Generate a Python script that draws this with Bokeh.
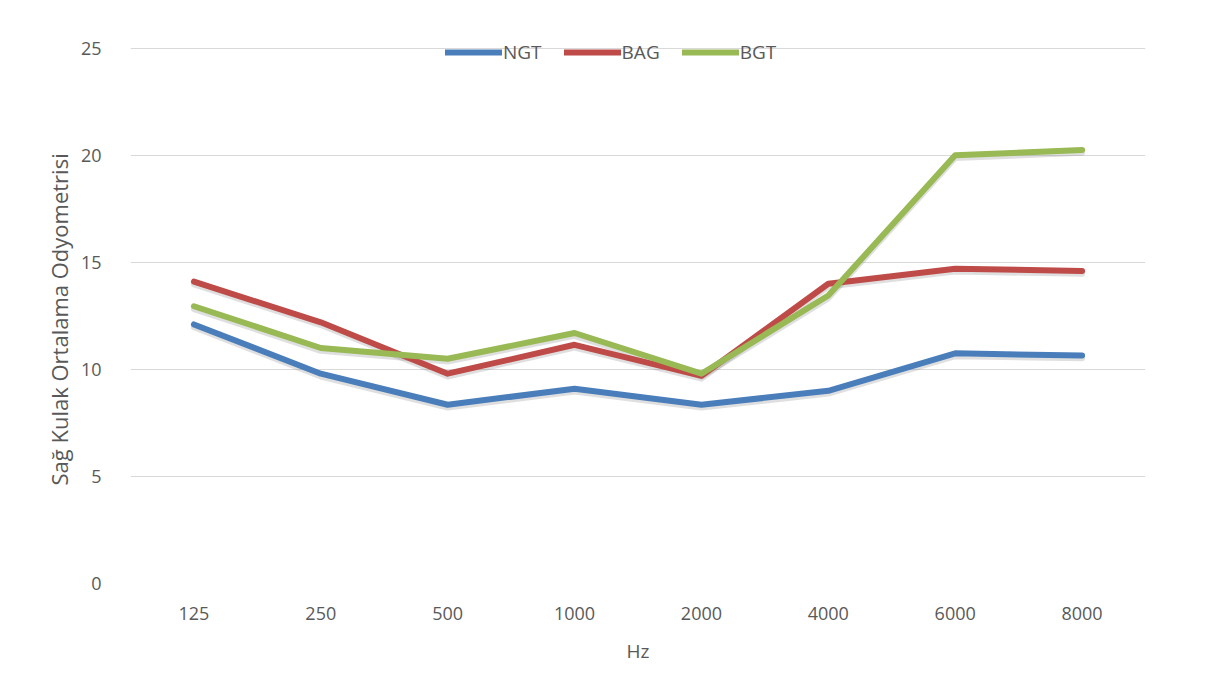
from bokeh.plotting import figure
from bokeh.models import Range1d, Legend, LegendItem, Title
from bokeh.embed import file_html
from bokeh.resources import INLINE

hz = ["125", "250", "500", "1000", "2000", "4000", "6000", "8000"]
ngt = [12.1, 9.8, 8.35, 9.1, 8.35, 9.0, 10.75, 10.65]
bag = [14.1, 12.2, 9.8, 11.15, 9.7, 14.0, 14.7, 14.6]
bgt = [12.95, 11.0, 10.5, 11.7, 9.8, 13.45, 20.0, 20.25]

series = [("NGT", ngt, "#4A7EBB"), ("BAG", bag, "#BE4B48"), ("BGT", bgt, "#98B954")]

FONT = "Open Sans"
TXT = "#595959"

# frame spans y=16..587 px; 25 sits at y=48 (21.56 px per unit)
y_top = 25 + 32 / (539 / 25)

p = figure(width=1203, height=666, x_range=hz, y_range=Range1d(0, y_top),
           output_backend="svg", toolbar_location=None,
           min_border_left=130, min_border_right=58, min_border_top=16, min_border_bottom=79)
p.outline_line_color = None
p.background_fill_color = "white"
p.border_fill_color = "white"

p.xgrid.grid_line_color = None
p.ygrid.grid_line_color = "#D9D9D9"
p.ygrid.grid_line_width = 1
p.yaxis.ticker = [0, 5, 10, 15, 20, 25]

for ax in (p.xaxis[0], p.yaxis[0]):
    ax.axis_line_color = None
    ax.major_tick_line_color = None
    ax.minor_tick_line_color = None
    ax.major_label_text_font = FONT
    ax.major_label_text_font_size = "18px"
    ax.major_label_text_color = TXT
    ax.axis_label_text_font = FONT
    ax.axis_label_text_font_style = "normal"
    ax.axis_label_text_color = TXT

p.xaxis.axis_label = "Hz"
p.xaxis.axis_label_text_font_size = "19px"
p.xaxis.major_label_standoff = 17
p.xaxis.axis_label_standoff = 15
p.yaxis.major_label_standoff = 23

ytitle = Title(text="Sağ Kulak Ortalama Odyometrisi", align="left", offset=98,
               text_font=FONT, text_font_size="22px", text_font_style="normal",
               text_color=TXT, standoff=8)
p.add_layout(ytitle, "left")

items = []
for name, vals, col in series:
    shadow = [v - 0.13 for v in vals]
    p.line(hz, shadow, line_color="#7f7f7f", line_alpha=0.25, line_width=6, line_join="round", line_cap="round")
for name, vals, col in series:
    r = p.line(hz, vals, line_color=col, line_width=6, line_join="round", line_cap="round")
    items.append(LegendItem(label=name, renderers=[r]))

legend = Legend(items=items, orientation="horizontal", location=(315, 518),
                background_fill_alpha=0, border_line_alpha=0, padding=0, margin=0,
                glyph_width=57, glyph_height=26, label_height=26, label_standoff=1, spacing=22,
                label_text_font=FONT, label_text_font_size="19px", label_text_color=TXT)
p.add_layout(legend)

open("out.html", "w").write(file_html(p, INLINE))
